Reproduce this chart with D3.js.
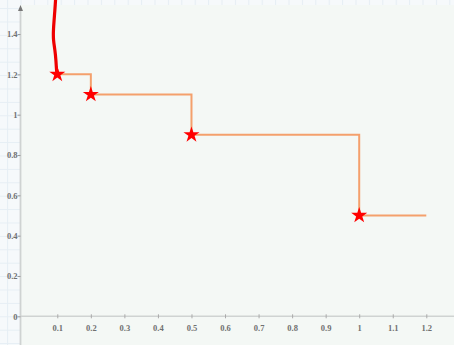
<!DOCTYPE html>
<html><head><meta charset="utf-8">
<script src="https://cdn.jsdelivr.net/npm/d3@7"></script>
<style>html,body{margin:0;padding:0;background:#f6f9fb;}svg{display:block;}</style>
</head><body><svg id="c" width="454" height="345"></svg>
<script>
// Step series (step-after) and star markers
const stepX = [0.1, 0.2, 0.5, 1.0, 1.2];
const stepY = [1.2, 1.1, 0.9, 0.5, 0.5];
const starX = [0.1, 0.2, 0.5, 1.0];
const starY = [1.2, 1.1, 0.9, 0.5];
// Red curve rising from the first point
const curveX = [0.1, 0.098, 0.096, 0.093, 0.088, 0.088, 0.093, 0.095];
const curveY = [1.2, 1.207, 1.272, 1.321, 1.371, 1.42, 1.519, 1.575];
const xTicks = [0.1,0.2,0.3,0.4,0.5,0.6,0.7,0.8,0.9,1,1.1,1.2];
const yTicks = [0,0.2,0.4,0.6,0.8,1,1.2,1.4];

const W = 454, H = 345;
const svg = d3.select("#c");
const x = d3.scaleLinear().domain([0, 1.2]).range([23.75, 426.3]);
const y = d3.scaleLinear().domain([0, 1.4]).range([316.3, 34]);
const axX = 20.5, topY = 5;

// grid paper
const defs = svg.append("defs");
const pat = defs.append("pattern").attr("id","grid").attr("patternUnits","userSpaceOnUse")
  .attr("width",13.4).attr("height",13.4).attr("x",axX).attr("y",y(0));
pat.append("rect").attr("width",13.4).attr("height",13.4).attr("fill","#f6f9fb");
pat.append("path").attr("d","M0,0.5H13.4M0.5,0V13.4").attr("stroke","#e6eef4").attr("stroke-width",1).attr("fill","none");
svg.append("rect").attr("width",W).attr("height",H).attr("fill","url(#grid)");
svg.append("rect").attr("x",axX).attr("y",topY).attr("width",W-axX).attr("height",H-topY).attr("fill","#f4f8f5");

const font = "'Liberation Serif', serif";

// x axis
const gx = svg.append("g").attr("transform",`translate(0,${y(0)})`)
  .call(d3.axisBottom(x).tickValues(xTicks).tickFormat(d3.format("")).tickSize(4));
gx.select(".domain").remove();
gx.selectAll(".tick line").attr("y1",-2).attr("y2",2).attr("stroke","#aaa");
gx.selectAll(".tick text").attr("y",9).attr("dy","0.71em").attr("fill","#707070")
  .attr("font-family",font).attr("font-weight","bold").attr("font-size",8.5);
gx.insert("line",":first-child").attr("x1",axX).attr("x2",W).attr("stroke","#cfd3d2").attr("stroke-width",1.6);

// y axis
const gy = svg.append("g").attr("transform",`translate(${axX},0)`)
  .call(d3.axisLeft(y).tickValues(yTicks).tickFormat(d3.format("")).tickSize(3));
gy.select(".domain").remove();
gy.selectAll(".tick line").attr("stroke","#999");
gy.selectAll(".tick text").attr("x",-3).attr("fill","#707070")
  .attr("font-family",font).attr("font-weight","bold").attr("font-size",8.5);
gy.insert("line",":first-child").attr("y1",topY+3).attr("y2",H).attr("stroke","#cfd3d2").attr("stroke-width",1.8);
gy.append("path").attr("d",`M-2.5,${topY+6}L0,${topY}L2.5,${topY+6}Z`).attr("fill","#777");

// step line
const stepData = stepX.map((v,i)=>[v, stepY[i]]);
svg.append("path").datum(stepData)
  .attr("d", d3.line().x(d=>x(d[0])).y(d=>y(d[1])).curve(d3.curveStepAfter))
  .attr("fill","none").attr("stroke","#f4a06c").attr("stroke-width",2);

// red curve
const curveData = curveX.map((v,i)=>[v, curveY[i]]);
svg.append("path").datum(curveData)
  .attr("d", d3.line().x(d=>x(d[0])).y(d=>y(d[1])).curve(d3.curveBasis))
  .attr("fill","none").attr("stroke","#ee0000").attr("stroke-width",3.2).attr("stroke-linecap","round");

// stars
svg.selectAll(".star").data(starX.map((v,i)=>[v, starY[i]])).join("path")
  .attr("class","star")
  .attr("transform", d=>`translate(${x(d[0])},${y(d[1])})`)
  .attr("d", d3.symbol().type(d3.symbolStar).size(80))
  .attr("fill","#ff0000");
</script></body></html>
